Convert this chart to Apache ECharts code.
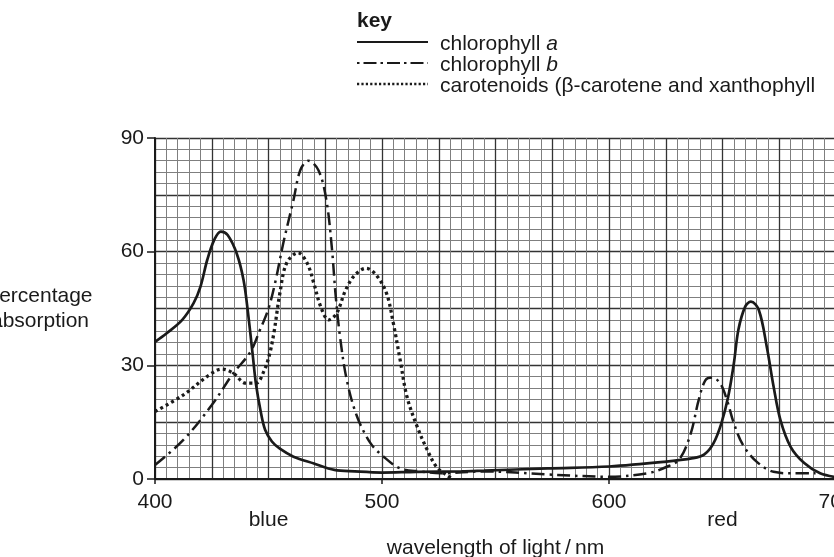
<!DOCTYPE html>
<html>
<head>
    <title>Absorption spectra of photosynthetic pigments</title>
    <script src="https://cdn.jsdelivr.net/npm/echarts@6.0.0/dist/echarts.min.js"></script>
    <style>
        html, body { margin: 0; padding: 0; background: #fff; }
    </style>
</head>
<body>
    <div id="chart" style="width: 834px; height: 557px;"></div>
    <script>
        // values (wavelength in nm, percentage absorption)
        var chlAWavelength = [400, 405, 412, 417, 420, 423, 426, 429, 432, 436, 439, 441, 443, 444.5, 446.5, 448.5, 451.5, 455, 461, 470, 479, 488, 500, 515, 535, 545, 573, 600, 624, 637, 642, 646, 649.5, 652.5, 655, 657, 660, 662.5, 666, 669.5, 672.5, 675.5, 680, 686, 693, 700];
        var chlAValues = [36.2, 38.4, 42, 46.4, 50.7, 57.8, 63, 65.3, 64.4, 59.5, 52.5, 43.7, 33, 25, 18, 13, 9.9, 8, 5.9, 4.1, 2.4, 2, 1.7, 1.9, 2, 2.2, 2.8, 3.3, 4.5, 5.5, 6.5, 9.4, 14.7, 21.7, 30.5, 39.4, 45.5, 46.8, 44.6, 34.9, 24.4, 15.6, 8.5, 4.2, 1.5, 0.5];

        var chlBWavelength = [400, 412.5, 425, 434.5, 442, 446, 450, 453, 456.5, 461, 464, 467.5, 472, 475.5, 478, 479.5, 481.5, 484.5, 489, 495, 500.5, 508, 517, 526, 545, 573, 600, 617, 625, 631, 636, 639.5, 642.5, 645.5, 649, 652, 655, 659, 665, 672.5, 681, 691];
        var chlBValues = [3.7, 10.3, 19.5, 27.9, 33.5, 39, 45, 52, 62.2, 73.6, 81.5, 84, 81.5, 73.6, 60.4, 49, 37.6, 26.1, 16.5, 9.4, 6, 2.8, 2, 1.5, 2, 1.2, 0.6, 1.5, 3.1, 5.2, 12, 20.8, 26.1, 26.8, 25.2, 20.8, 14.7, 9, 4.6, 1.9, 1.5, 1.5];

        var carotWavelength = [400, 412.5, 424, 429.5, 434.5, 440, 444.5, 448, 450.5, 452.5, 455, 458, 463, 467, 470, 473, 476.5, 480, 484, 488, 493, 497.5, 502, 505, 508, 511, 515.5, 520, 524, 528.5, 531];
        var carotValues = [17.8, 22.2, 27.5, 29, 27.9, 25.3, 25.3, 28.5, 33, 39, 49, 57, 59.7, 57, 51.6, 45.5, 42, 43.7, 49.9, 53.8, 55.6, 53.8, 49, 41.1, 31.4, 21.7, 13.8, 7.6, 3.2, 1, 0];

        var xTickLabels = [400, 500, 600, 700];
        var yTickLabels = [0, 30, 60, 90];
        var bandNames = ['blue', 'red'];
        var bandWavelength = [450, 650];

        function pairs(xs, ys) {
            return xs.map(function (x, i) { return [x, ys[i]]; });
        }

        var ink = '#1a1a1a';
        var font = '"Liberation Sans", Arial, sans-serif';
        var fs = 21;

        var chart = echarts.init(document.querySelector('#chart'));

        var option = {
            animation: false,
            backgroundColor: '#fff',
            grid: { left: 155, right: -2, top: 138, bottom: 78, containLabel: false, outerBoundsMode: 'none' },
            xAxis: [
                {
                    type: 'value', min: 400, max: 700, interval: 25,
                    axisLine: { show: false },
                    axisTick: { show: false },
                    axisLabel: {
                        color: ink, fontSize: fs, fontFamily: font, margin: 5,
                        formatter: function (v) { return xTickLabels.indexOf(v) >= 0 ? String(v) : ''; }
                    },
                    splitLine: { show: true, lineStyle: { color: '#333', width: 1.3 } },
                    minorTick: { show: false, splitNumber: 5 },
                    minorSplitLine: { show: true, lineStyle: { color: '#7f7f7f', width: 1 } },
                    name: 'wavelength of light\u2009/\u2009nm',
                    nameLocation: 'middle', nameGap: 51,
                    nameTextStyle: { color: ink, fontSize: fs, fontFamily: font }
                },
                {
                    type: 'value', min: 400, max: 700, interval: 100, position: 'bottom',
                    axisLine: { show: true, onZero: false, lineStyle: { color: ink, width: 2 } },
                    axisTick: { show: true, length: 5, lineStyle: { color: ink, width: 1.5 } },
                    axisLabel: { show: false },
                    splitLine: { show: false }
                }
            ],
            yAxis: [
                {
                    type: 'value', min: 0, max: 90, interval: 15,
                    axisLine: { show: false },
                    axisTick: { show: false },
                    axisLabel: {
                        color: ink, fontSize: fs, fontFamily: font, margin: 11,
                        formatter: function (v) { return yTickLabels.indexOf(v) >= 0 ? String(v) : ''; }
                    },
                    splitLine: { show: true, lineStyle: { color: '#333', width: 1.3 } },
                    minorTick: { show: false, splitNumber: 5 },
                    minorSplitLine: { show: true, lineStyle: { color: '#7f7f7f', width: 1 } }
                },
                {
                    type: 'value', min: 0, max: 90, interval: 30, position: 'left',
                    axisLine: { show: true, onZero: false, lineStyle: { color: ink, width: 2 } },
                    axisTick: { show: true, length: 8, lineStyle: { color: ink, width: 1.5 } },
                    axisLabel: { show: false },
                    splitLine: { show: false }
                }
            ],
            series: [
                {
                    name: 'chlorophyll a', type: 'line', smooth: 0.35, showSymbol: false,
                    data: pairs(chlAWavelength, chlAValues),
                    lineStyle: { color: ink, width: 2.7 }, z: 5
                },
                {
                    name: 'chlorophyll b', type: 'line', smooth: 0.35, showSymbol: false,
                    data: pairs(chlBWavelength, chlBValues),
                    lineStyle: { color: ink, width: 2.5, type: [13, 5, 2.5, 5] }, z: 5
                },
                {
                    name: 'carotenoids', type: 'line', smooth: 0.35, showSymbol: false,
                    data: pairs(carotWavelength, carotValues),
                    lineStyle: { color: ink, width: 3.3, type: [3, 3.2] }, z: 5
                }
            ]
        };
        chart.setOption(option);

        // key block and free text
        var keyX1 = 357, keyX2 = 428, keyTextX = 440;
        var keyRows = [
            { y: 42, dash: null, text: 'chlorophyll {i|a}', w: 2 },
            { y: 63, dash: [2.5, 4, 13, 4], text: 'chlorophyll {i|b}', w: 2 },
            { y: 84, dash: [2.2, 2.2], text: 'carotenoids (\u03b2-carotene and xanthophyll', w: 2.6 }
        ];
        var graphics = [
            {
                type: 'text', x: 357, y: 21,
                style: { text: 'key', font: 'bold ' + fs + 'px ' + font, fill: ink, verticalAlign: 'middle' }
            },
            {
                type: 'text', x: 40, y: 296,
                style: { text: 'percentage', font: fs + 'px ' + font, fill: ink, align: 'center', verticalAlign: 'middle' }
            },
            {
                type: 'text', x: 40, y: 321,
                style: { text: 'absorption', font: fs + 'px ' + font, fill: ink, align: 'center', verticalAlign: 'middle' }
            }
        ];
        keyRows.forEach(function (r) {
            graphics.push({
                type: 'line',
                shape: { x1: keyX1, y1: r.y, x2: keyX2, y2: r.y },
                style: { stroke: ink, lineWidth: r.w, lineDash: r.dash }
            });
            graphics.push({
                type: 'text', x: keyTextX, y: r.y + 2,
                style: {
                    text: r.text, font: fs + 'px ' + font, fill: ink, verticalAlign: 'middle',
                    rich: { i: { fontStyle: 'italic', fontSize: fs, fontFamily: font, fill: ink } }
                }
            });
        });
        bandNames.forEach(function (name, i) {
            var px = chart.convertToPixel({ xAxisIndex: 0 }, bandWavelength[i]);
            graphics.push({
                type: 'text', x: px, y: 520,
                style: { text: name, font: fs + 'px ' + font, fill: ink, align: 'center', verticalAlign: 'middle' }
            });
        });
        chart.setOption({ graphic: graphics });
    </script>
</body>
</html>
